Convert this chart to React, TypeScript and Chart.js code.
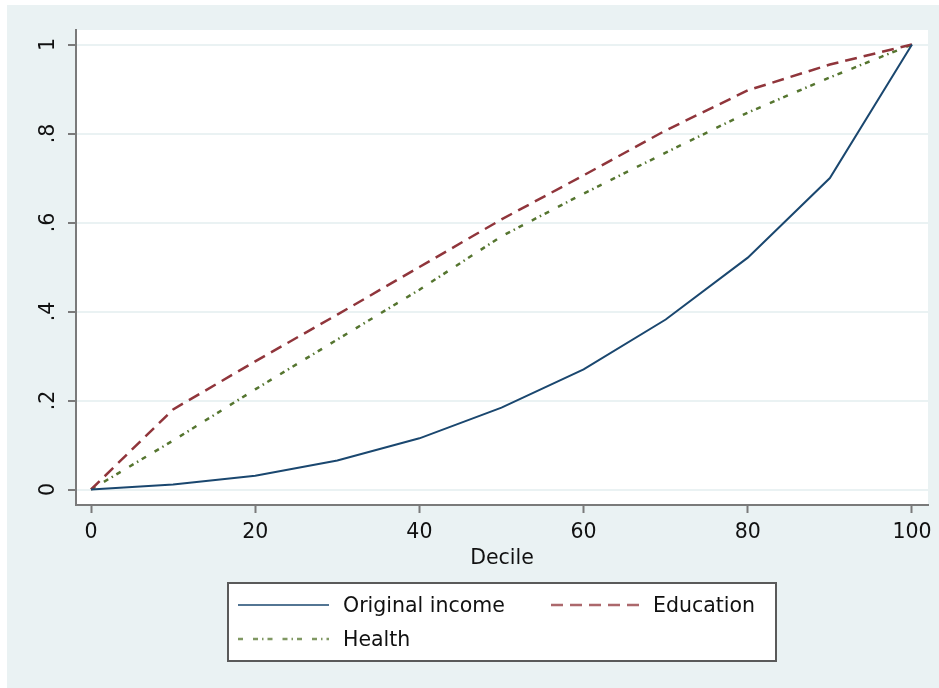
import React, { useEffect, useRef } from "react";
import { Chart, registerables } from "chart.js";

Chart.register(...registerables);

// ---- data ----
const deciles = [0, 10, 20, 30, 40, 50, 60, 70, 80, 90, 100];
const originalIncome = [0, 0.011, 0.031, 0.065, 0.115, 0.184, 0.27, 0.382, 0.521, 0.7, 1];
const education = [0, 0.18, 0.288, 0.393, 0.5, 0.607, 0.706, 0.807, 0.897, 0.955, 1];
const health = [0, 0.11, 0.225, 0.337, 0.449, 0.569, 0.665, 0.757, 0.847, 0.926, 1];
const seriesLabels = ["Original income", "Education", "Health"];
const xTickValues = [0, 20, 40, 60, 80, 100];
const yTickValues = [0, 0.2, 0.4, 0.6, 0.8, 1];
const yTickLabels = ["0", ".2", ".4", ".6", ".8", "1"];
const xTitle = "Decile";

const FONT = "'DejaVu Sans', sans-serif";
const FONT_SIZE = 20.5;
const BG = "#EAF2F3";
const AXIS = "#7a7a7a";
const TEXT = "#111111";

const bgPlugin = {
  id: "stataBg",
  beforeDraw(chart: any) {
    const { ctx, width, height, chartArea } = chart;
    ctx.save();
    ctx.fillStyle = "#ffffff";
    ctx.fillRect(0, 0, width, height);
    ctx.fillStyle = BG;
    ctx.fillRect(7, 5, width - 7, height - 5);
    ctx.fillStyle = "#ffffff";
    ctx.fillRect(chartArea.left, chartArea.top, chartArea.right - chartArea.left, chartArea.bottom - chartArea.top);
    ctx.restore();
  },
};

const legendPlugin = {
  id: "stataLegend",
  afterDraw(chart: any) {
    const ctx = chart.ctx;
    ctx.save();
    const bx = 228, by = 583, bw = 548, bh = 78;
    ctx.fillStyle = "#ffffff";
    ctx.fillRect(bx, by, bw, bh);
    ctx.strokeStyle = "#5a5a5a";
    ctx.lineWidth = 2;
    ctx.strokeRect(bx, by, bw, bh);
    const slots = [
      { x: 238, y: 605, w: 91 },
      { x: 551, y: 605, w: 88 },
      { x: 238, y: 639, w: 91 },
    ];
    chart.data.datasets.forEach((ds: any, i: number) => {
      const s = slots[i];
      ctx.globalAlpha = 0.75;
      ctx.strokeStyle = ds.borderColor;
      ctx.lineWidth = ds.borderWidth;
      ctx.setLineDash(ds.borderDash || []);
      ctx.beginPath();
      ctx.moveTo(s.x, s.y);
      ctx.lineTo(s.x + s.w, s.y);
      ctx.stroke();
      ctx.setLineDash([]);
      ctx.globalAlpha = 1;
      ctx.fillStyle = TEXT;
      ctx.font = `${FONT_SIZE}px ${FONT}`;
      ctx.textAlign = "left";
      ctx.textBaseline = "middle";
      ctx.fillText(ds.label, s.x + s.w + 14, s.y + 2);
    });
    ctx.restore();
  },
};

export default function App() {
  const ref = useRef<HTMLCanvasElement | null>(null);

  useEffect(() => {
    document.body.style.margin = "0";
    const canvas = ref.current;
    if (!canvas) return;
    const mk = (vals: number[]) => deciles.map((x, i) => ({ x, y: vals[i] }));
    const chart = new Chart(canvas, {
      type: "line",
      data: {
        datasets: [
          {
            label: seriesLabels[0],
            data: mk(originalIncome),
            borderColor: "#1a476f",
            borderWidth: 2,
            pointRadius: 0,
            tension: 0,
          },
          {
            label: seriesLabels[1],
            data: mk(education),
            borderColor: "#90353b",
            borderWidth: 2.5,
            borderDash: [12, 7],
            pointRadius: 0,
            tension: 0,
          },
          {
            label: seriesLabels[2],
            data: mk(health),
            borderColor: "#55752f",
            borderWidth: 2.5,
            borderDash: [5, 10, 5, 4, 1.5, 4],
            pointRadius: 0,
            tension: 0,
          },
        ],
      },
      options: {
        responsive: false,
        animation: false,
        events: [],
        layout: { padding: { left: 0, top: 30, right: 11, bottom: 117 } },
        plugins: {
          legend: { display: false },
          tooltip: { enabled: false },
          title: { display: false },
        },
        scales: {
          x: {
            type: "linear",
            min: -1.83,
            max: 101.95,
            afterBuildTicks: (scale: any) => {
              scale.ticks = xTickValues.map((v) => ({ value: v }));
            },
            afterFit: (scale: any) => {
              scale.height = 66;
              scale.paddingLeft = 0;
              scale.paddingRight = 0;
            },
            border: { display: true, color: AXIS, width: 2 },
            grid: {
              drawOnChartArea: false,
              drawTicks: true,
              tickLength: 8,
              tickColor: AXIS,
              tickWidth: 2,
            },
            ticks: {
              color: TEXT,
              font: { family: FONT, size: FONT_SIZE },
              padding: 7,
              maxRotation: 0,
              minRotation: 0,
              callback: (v: any) => String(v),
            },
            title: {
              display: true,
              text: xTitle,
              color: TEXT,
              font: { family: FONT, size: FONT_SIZE },
              padding: { top: 0, bottom: 0 },
            },
          },
          y: {
            type: "linear",
            min: -0.0348,
            max: 1.0326,
            afterBuildTicks: (scale: any) => {
              scale.ticks = yTickValues.map((v) => ({ value: v }));
            },
            afterFit: (scale: any) => {
              scale.width = 76;
            },
            border: { display: true, color: AXIS, width: 2 },
            grid: {
              color: BG,
              lineWidth: 2,
              drawTicks: true,
              tickLength: 8,
              tickColor: AXIS,
              tickWidth: 2,
            },
            ticks: {
              color: TEXT,
              font: { family: FONT, size: FONT_SIZE },
              padding: 10,
              minRotation: 90,
              maxRotation: 90,
              crossAlign: "center",
              callback: (v: any) => {
                const i = yTickValues.findIndex((t) => Math.abs(t - v) < 1e-9);
                return i >= 0 ? yTickLabels[i] : "";
              },
            },
          },
        },
      },
      plugins: [bgPlugin, legendPlugin],
    } as any);
    return () => chart.destroy();
  }, []);

  return (
    <div style={{ width: 939, height: 688 }}>
      <canvas ref={ref} width={939} height={688} style={{ display: "block" }} />
    </div>
  );
}
